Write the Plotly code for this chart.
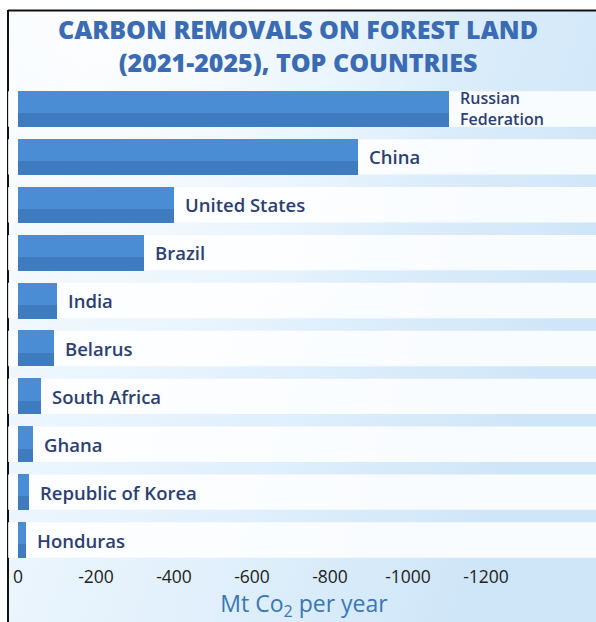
import base64
import plotly.graph_objects as go

# Carbon removals on forest land, 2021-2025 average (Mt CO2 per year, removals negative)
countries = [
    "Russian Federation", "China", "United States", "Brazil", "India",
    "Belarus", "South Africa", "Ghana", "Republic of Korea", "Honduras",
]
removals = [-1105, -872, -400, -323, -100, -92, -59, -38, -28, -21]
labels = [
    "Russian<br>Federation", "China", "United States", "Brazil", "India",
    "Belarus", "South Africa", "Ghana", "Republic of Korea", "Honduras",
]
tick_values = [0, -200, -400, -600, -800, -1000, -1200]
tick_text = ["0", "-200", "-400", "-600", "-800", "-1000", "-1200"]

W, H = 596, 622
ML, MR, MT, MB = 18, 6, 85, 58
PW, PH = W - ML - MR, H - MT - MB
PX_PER_UNIT = 0.39

# Soft blue backdrop with a framing line on the top and left edges
svg = f"""<svg xmlns='http://www.w3.org/2000/svg' width='{W}' height='{H}' viewBox='0 0 {W} {H}'>
<defs>
<linearGradient id='g' x1='0' y1='0' x2='1' y2='0.35'>
<stop offset='0' stop-color='#F3F9FE'/>
<stop offset='0.55' stop-color='#E3F1FC'/>
<stop offset='1' stop-color='#CFE6F8'/>
</linearGradient>
<radialGradient id='r' cx='0.15' cy='0.05' r='0.6'>
<stop offset='0' stop-color='#FFFFFF' stop-opacity='0.8'/>
<stop offset='1' stop-color='#FFFFFF' stop-opacity='0'/>
</radialGradient>
</defs>
<rect x='0' y='0' width='{W}' height='{H}' fill='#FFFFFF'/>
<rect x='8' y='10' width='{W - 8}' height='{H - 10}' fill='url(#g)'/>
<rect x='8' y='10' width='{W - 8}' height='{H - 10}' fill='url(#r)'/>
<line x1='8' y1='10.5' x2='{W}' y2='10.5' stroke='#111' stroke-width='2'/>
<line x1='8' y1='10' x2='8' y2='{H}' stroke='#111' stroke-width='2'/>
</svg>"""
bg_uri = "data:image/svg+xml;base64," + base64.b64encode(svg.encode()).decode()

fig = go.Figure()

# Main bar body
fig.add_trace(go.Bar(
    y=countries, x=removals, orientation="h", width=0.75,
    marker=dict(color="#4A8DD4", line=dict(width=0)),
    hoverinfo="x+y", showlegend=False,
))
# Darker lower band of each bar
fig.add_trace(go.Bar(
    y=countries, x=removals, orientation="h", width=0.285, offset=0.09,
    marker=dict(color="#3F7CBF", line=dict(width=0)),
    hoverinfo="skip", showlegend=False,
))

# White row bands behind the bars
shapes = []
for idx, c in enumerate(countries):
    shapes.append(dict(
        type="rect", xref="paper", yref="y",
        x0=-10 / PW, x1=(W - ML) / PW,
        y0=idx - 0.37, y1=idx + 0.37,
        fillcolor="rgba(255,255,255,0.85)", line=dict(width=0), layer="below",
    ))

# Country names beside the bar ends
annotations = []
for c, v, lab in zip(countries, removals, labels):
    two_line = "<br>" in lab
    annotations.append(dict(
        x=v, y=c, xref="x", yref="y", text=lab, showarrow=False,
        xanchor="left", yanchor="middle", xshift=9, align="left",
        font=dict(family="Open Sans", size=16 if two_line else 18.5,
                  color="#2C3F72", weight=600),
    ))

fig.update_layout(
    width=W, height=H,
    margin=dict(l=ML, r=MR, t=MT, b=MB, autoexpand=False),
    paper_bgcolor="#FFFFFF", plot_bgcolor="rgba(0,0,0,0)",
    barmode="overlay", bargap=0,
    title=dict(
        text="CARBON REMOVALS ON FOREST LAND<br>(2021-2025), TOP COUNTRIES",
        x=0.5, xanchor="center", xref="container",
        y=1 - 39 / H, yanchor="middle", yref="container",
        font=dict(family="Open Sans", size=25, color="#3B6CB3", weight=800),
    ),
    xaxis=dict(
        range=[0, -PW / PX_PER_UNIT], tickvals=tick_values, ticktext=tick_text,
        showgrid=False, zeroline=False, showline=False, ticks="",
        tickfont=dict(family="Open Sans", size=17.5, color="#222222"),
        title=dict(text="Mt Co<sub>2</sub> per year", standoff=9,
                   font=dict(family="Open Sans", size=23, color="#3A77B6")),
        fixedrange=True,
    ),
    yaxis=dict(
        autorange="reversed", showticklabels=False, showgrid=False,
        zeroline=False, showline=False, ticks="", fixedrange=True,
    ),
    shapes=shapes,
    annotations=annotations,
    images=[dict(
        source=bg_uri, xref="paper", yref="paper",
        x=-ML / PW, y=1 + MT / PH, sizex=W / PW, sizey=H / PH,
        xanchor="left", yanchor="top", sizing="stretch", layer="below",
    )],
)

fig.write_html("out.html")
